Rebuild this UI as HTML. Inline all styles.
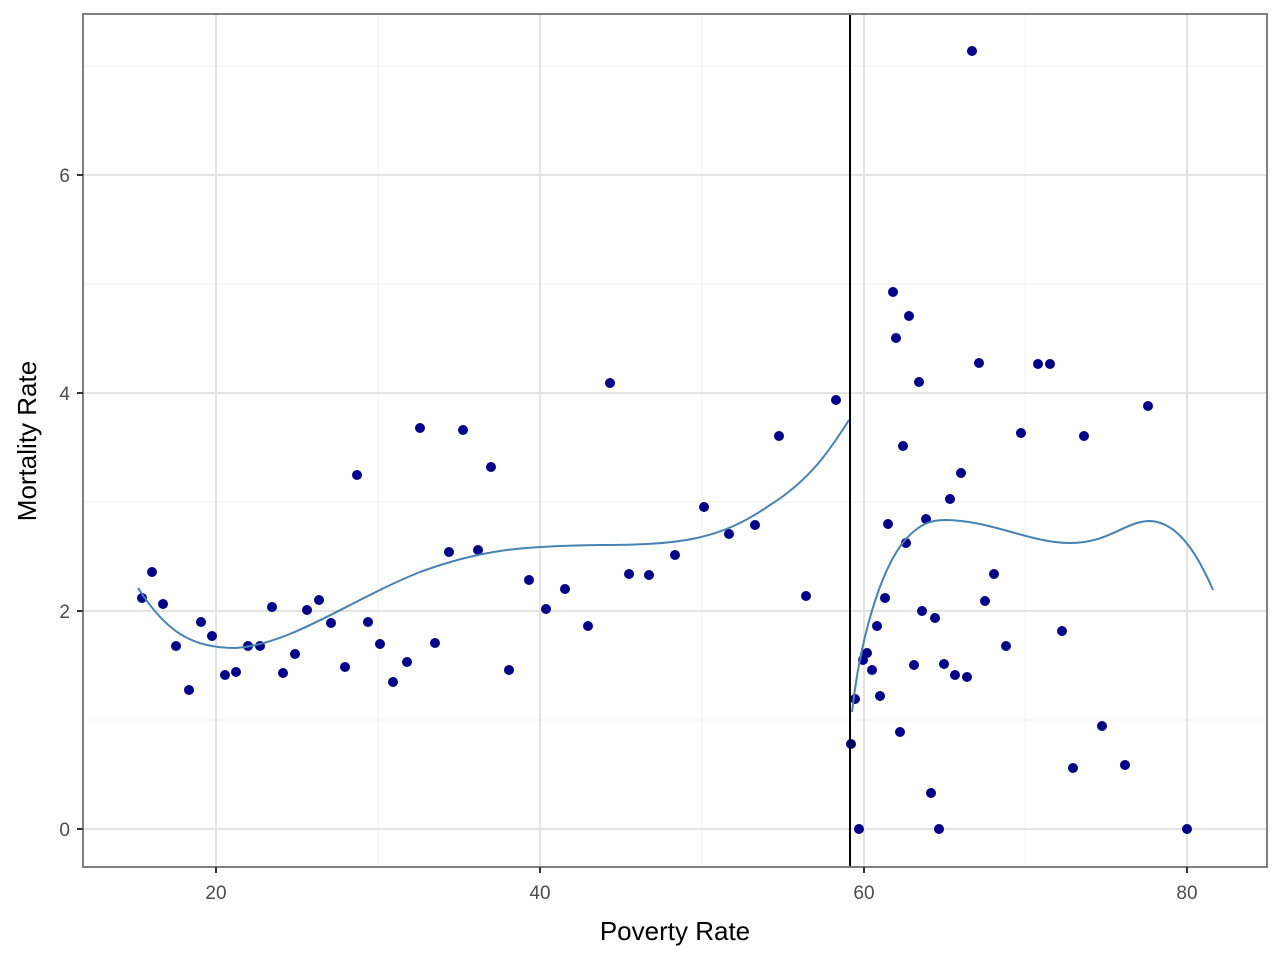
<!DOCTYPE html>
<html><head><style>body{margin:0;background:#fff}svg{display:block}</style></head><body>
<svg width="1280" height="960" xmlns="http://www.w3.org/2000/svg" font-family="Liberation Sans, sans-serif">
<rect width="1280" height="960" fill="#fff"/>
<g stroke="#f2f2f2" stroke-width="1">
<line x1="378" y1="14" x2="378" y2="867"/><line x1="702" y1="14" x2="702" y2="867"/><line x1="1025" y1="14" x2="1025" y2="867"/>
<line x1="83" y1="66" x2="1267" y2="66"/><line x1="83" y1="284" x2="1267" y2="284"/><line x1="83" y1="502" x2="1267" y2="502"/><line x1="83" y1="720" x2="1267" y2="720"/>
</g>
<g stroke="#e3e3e3" stroke-width="2">
<line x1="216" y1="14" x2="216" y2="867"/><line x1="540" y1="14" x2="540" y2="867"/><line x1="864" y1="14" x2="864" y2="867"/><line x1="1187" y1="14" x2="1187" y2="867"/>
<line x1="83" y1="175" x2="1267" y2="175"/><line x1="83" y1="393" x2="1267" y2="393"/><line x1="83" y1="611" x2="1267" y2="611"/><line x1="83" y1="829" x2="1267" y2="829"/>
</g>
<g fill="#00008b">
<circle cx="142" cy="598" r="5"/><circle cx="152" cy="572" r="5"/><circle cx="163" cy="604" r="5"/><circle cx="176" cy="646" r="5"/><circle cx="189" cy="690" r="5"/><circle cx="201" cy="622" r="5"/><circle cx="212" cy="636" r="5"/><circle cx="225" cy="675" r="5"/><circle cx="236" cy="672" r="5"/><circle cx="248" cy="646" r="5"/><circle cx="260" cy="646" r="5"/><circle cx="272" cy="607" r="5"/><circle cx="283" cy="673" r="5"/><circle cx="295" cy="654" r="5"/><circle cx="307" cy="610" r="5"/><circle cx="319" cy="600" r="5"/><circle cx="331" cy="623" r="5"/><circle cx="345" cy="667" r="5"/><circle cx="357" cy="475" r="5"/><circle cx="368" cy="622" r="5"/><circle cx="380" cy="644" r="5"/><circle cx="393" cy="682" r="5"/><circle cx="407" cy="662" r="5"/><circle cx="420" cy="428" r="5"/><circle cx="435" cy="643" r="5"/><circle cx="449" cy="552" r="5"/><circle cx="463" cy="430" r="5"/><circle cx="478" cy="550" r="5"/><circle cx="491" cy="467" r="5"/><circle cx="509" cy="670" r="5"/><circle cx="529" cy="580" r="5"/><circle cx="546" cy="609" r="5"/><circle cx="565" cy="589" r="5"/><circle cx="588" cy="626" r="5"/><circle cx="610" cy="383" r="5"/><circle cx="629" cy="574" r="5"/><circle cx="649" cy="575" r="5"/><circle cx="675" cy="555" r="5"/><circle cx="704" cy="507" r="5"/><circle cx="729" cy="534" r="5"/><circle cx="755" cy="525" r="5"/><circle cx="779" cy="436" r="5"/><circle cx="806" cy="596" r="5"/><circle cx="836" cy="400" r="5"/><circle cx="851" cy="744" r="5"/><circle cx="855" cy="699" r="5"/><circle cx="859" cy="829" r="5"/><circle cx="863" cy="660" r="5"/><circle cx="867" cy="653" r="5"/><circle cx="872" cy="670" r="5"/><circle cx="877" cy="626" r="5"/><circle cx="880" cy="696" r="5"/><circle cx="885" cy="598" r="5"/><circle cx="888" cy="524" r="5"/><circle cx="893" cy="292" r="5"/><circle cx="896" cy="338" r="5"/><circle cx="900" cy="732" r="5"/><circle cx="903" cy="446" r="5"/><circle cx="906" cy="543" r="5"/><circle cx="909" cy="316" r="5"/><circle cx="914" cy="665" r="5"/><circle cx="919" cy="382" r="5"/><circle cx="922" cy="611" r="5"/><circle cx="926" cy="519" r="5"/><circle cx="931" cy="793" r="5"/><circle cx="935" cy="618" r="5"/><circle cx="939" cy="829" r="5"/><circle cx="944" cy="664" r="5"/><circle cx="950" cy="499" r="5"/><circle cx="955" cy="675" r="5"/><circle cx="961" cy="473" r="5"/><circle cx="967" cy="677" r="5"/><circle cx="972" cy="51" r="5"/><circle cx="979" cy="363" r="5"/><circle cx="985" cy="601" r="5"/><circle cx="994" cy="574" r="5"/><circle cx="1006" cy="646" r="5"/><circle cx="1021" cy="433" r="5"/><circle cx="1038" cy="364" r="5"/><circle cx="1050" cy="364" r="5"/><circle cx="1062" cy="631" r="5"/><circle cx="1073" cy="768" r="5"/><circle cx="1084" cy="436" r="5"/><circle cx="1102" cy="726" r="5"/><circle cx="1125" cy="765" r="5"/><circle cx="1148" cy="406" r="5"/><circle cx="1187" cy="829" r="5"/>
</g>
<g fill="none" stroke="#4682b4" stroke-width="2">
<path d="M138,588 C165,630 190,648 235,648 C290,645 350,600 420,572 C480,550 520,546 600,545 C680,545 720,540 770,505 C810,480 830,450 849,420"/>
<path d="M852,712 C860,640 880,570 905,540 C920,523 932,520 945,520 C990,520 1030,543 1070,543 C1110,543 1125,521 1150,521 C1180,522 1200,560 1213,590"/>
</g>
<line x1="850" y1="14" x2="850" y2="867" stroke="#000" stroke-width="2"/>
<rect x="83" y="14" width="1184" height="853" fill="none" stroke="#7f7f7f" stroke-width="2"/>
<g stroke="#333" stroke-width="2">
<line x1="216" y1="867" x2="216" y2="873"/><line x1="540" y1="867" x2="540" y2="873"/><line x1="864" y1="867" x2="864" y2="873"/><line x1="1187" y1="867" x2="1187" y2="873"/>
<line x1="77" y1="175" x2="83" y2="175"/><line x1="77" y1="393" x2="83" y2="393"/><line x1="77" y1="611" x2="83" y2="611"/><line x1="77" y1="829" x2="83" y2="829"/>
</g>
<g fill="#4d4d4d" font-size="19" text-anchor="middle">
<text x="216" y="899">20</text><text x="540" y="899">40</text><text x="864" y="899">60</text><text x="1187" y="899">80</text>
</g>
<g fill="#4d4d4d" font-size="19" text-anchor="end">
<text x="70" y="182">6</text><text x="70" y="400">4</text><text x="70" y="618">2</text><text x="70" y="836">0</text>
</g>
<text x="675" y="940" font-size="26" text-anchor="middle">Poverty Rate</text>
<text transform="translate(36,441) rotate(-90)" font-size="26" text-anchor="middle">Mortality Rate</text>
</svg>
</body></html>
